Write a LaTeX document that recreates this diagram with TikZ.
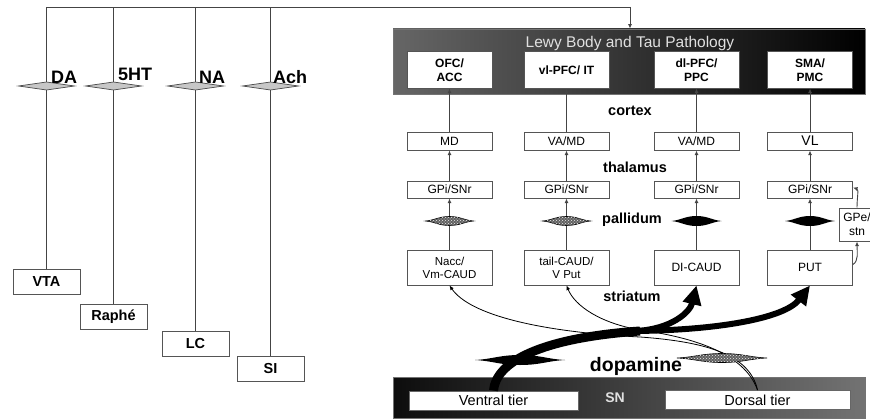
\documentclass[tikz,border=0pt]{standalone}
\usepackage{fontspec}
\setmainfont{Liberation Sans}
\usetikzlibrary{arrows.meta,patterns}
\definecolor{ln}{HTML}{444444}
\definecolor{bd}{HTML}{555555}
\tikzset{
  pics/rhomb/.style={code={\path[pic actions] (-28,0) -- (0,-4) -- (28,0) -- (0,4) -- cycle;}},
  pics/lens/.style 2 args={code={\path[pic actions] (-#1,0) .. controls (-0.6*#1,-0.2*#2) and (-0.45*#1,-#2) .. (0,-#2) .. controls (0.45*#1,-#2) and (0.6*#1,-0.2*#2) .. (#1,0) .. controls (0.6*#1,0.2*#2) and (0.45*#1,#2) .. (0,#2) .. controls (-0.45*#1,#2) and (-0.6*#1,0.2*#2) .. (-#1,0) -- cycle;}},
  pics/hlens/.style 2 args={code={\path[fill=black!62, postaction={pattern=crosshatch dots, pattern color=black!8}, draw=black, line width=0.6pt] (-#1,0) .. controls (-0.6*#1,-0.2*#2) and (-0.45*#1,-#2) .. (0,-#2) .. controls (0.45*#1,-#2) and (0.6*#1,-0.2*#2) .. (#1,0) .. controls (0.6*#1,0.2*#2) and (0.45*#1,#2) .. (0,#2) .. controls (-0.45*#1,#2) and (-0.6*#1,0.2*#2) .. (-#1,0) -- cycle;}},
}
\begin{document}
\begin{tikzpicture}[x=1pt,y=-1pt,
  line/.style={draw=ln, line width=0.9pt},
  arr/.style={line, -{Latex[length=4.5pt,width=4pt]}},
  box/.style={draw=bd, line width=1pt, fill=white, inner sep=1pt, align=center, text=black},
  lbox/.style={box, minimum width=67, minimum height=25, font=\fontsize{14.5}{16}\selectfont\bfseries},
  cbox/.style={box, minimum width=85, minimum height=36, font=\fontsize{12}{14}\selectfont\bfseries},
  tbox/.style={box, minimum width=85, minimum height=18, font=\fontsize{12}{13}\selectfont},
  gbox/.style={box, minimum width=85, minimum height=17, font=\fontsize{12}{13}\selectfont},
  sbox/.style={box, minimum width=85, minimum height=35, font=\fontsize{11.5}{13}\selectfont},
  nt/.style={font=\fontsize{18}{20}\selectfont\bfseries, anchor=west, inner sep=0pt},
  region/.style={font=\fontsize{14.5}{16}\selectfont\bfseries, inner sep=0pt},
  diam/.style={fill=black!22, draw=ln, line width=0.7pt},
  blacklens/.style={fill=black},
  tier/.style={box, draw=black!60, minimum height=19, font=\fontsize{14.5}{16}\selectfont},
  dopa/.style={line width=6pt, draw=black, -{Triangle[length=19pt,width=18pt]}},
  thin/.style={draw=black, line width=0.8pt, -{Latex[length=4.5pt,width=4pt]}},
]
\useasboundingbox (0,0) rectangle (870,420);
\clip (0,0) rectangle (870,420);

% ---------- left: transmitter systems ----------
\node[lbox] (vta) at (46.5,281.5) {VTA};
\node[lbox] (raphe) at (113.5,316.5) {Raphé};
\node[lbox] (lc) at (195.5,344) {LC};
\node[lbox] (si) at (270.5,368.5) {SI};

% ---------- top bar ----------
\node[draw=black!55, line width=0.8pt, left color=black!60, right color=black, minimum width=472, minimum height=65, inner sep=0pt] (topbar) at (629,61.5) {};
\node[font=\fontsize{15.5}{17}\selectfont, text=black!12] (title) at (630,43) {Lewy Body and Tau Pathology};

\coordinate (tc) at (630,7);
\coordinate (dy) at (0,86);
\draw[line] (vta.north) |- (tc);
\draw[line] (raphe.north) -- (raphe.north |- tc);
\draw[line] (lc.north) -- (lc.north |- tc);
\draw[line] (si.north) -- (si.north |- tc);
\draw[arr] (tc) -- (tc |- topbar.north);

\pic[diam] at (vta.north |- dy) {rhomb};
\pic[diam] at (raphe.north |- dy) {rhomb};
\pic[diam] at (lc.north |- dy) {rhomb};
\pic[diam] at (si.north |- dy) {rhomb};

\node[nt] (da) at (51,77) {DA};
\node[nt] (ht) at (118,74) {5HT};
\node[nt] (na) at (199,77) {NA};
\node[nt] (ach) at (273,77) {Ach};

% ---------- columns ----------
\node[cbox] (cx1) at (449.5,70) {OFC/\\ACC};
\node[cbox] (cx2) at (566.5,70) {vl-PFC/ IT};
\node[cbox] (cx3) at (696.5,70) {dl-PFC/\\PPC};
\node[cbox] (cx4) at (810,70) {SMA/\\PMC};

\node[tbox] (th1) at (449.5,141) {MD};
\node[tbox] (th2) at (566.5,141) {VA/MD};
\node[tbox] (th3) at (696.5,141) {VA/MD};
\node[tbox, font=\fontsize{14}{15}\selectfont] (th4) at (810,141) {VL};

\node[gbox] (gp1) at (449.5,189.5) {GPi/SNr};
\node[gbox] (gp2) at (566.5,189.5) {GPi/SNr};
\node[gbox] (gp3) at (696.5,189.5) {GPi/SNr};
\node[gbox] (gp4) at (810,189.5) {GPi/SNr};

\node[sbox] (st1) at (449.5,267.5) {Nacc/\\Vm-CAUD};
\node[sbox] (st2) at (566.5,267.5) {tail-CAUD/\\V Put};
\node[sbox, font=\fontsize{12}{13}\selectfont] (st3) at (696.5,267.5) {DI-CAUD};
\node[sbox, font=\fontsize{12}{13}\selectfont] (st4) at (810,267.5) {PUT};

\node[box, minimum width=36, minimum height=33, font=\fontsize{12}{14}\selectfont] (gpe) at (857,224.5) {GPe/\\stn};

\foreach \i in {1,2,3,4}{
  \draw[arr] (th\i.north) -- (cx\i.south);
  \draw[arr] (gp\i.north) -- (th\i.south);
  \draw[arr] (st\i.north) -- (gp\i.south);
}
\pic at (449.5,221) {hlens={24}{4.5}};
\pic at (566.5,221) {hlens={24}{4.5}};
\pic[blacklens] at (696.5,221) {lens={25}{5}};
\pic[blacklens] at (810,221) {lens={25}{5}};

\draw[arr] ([yshift=3]st4.east) .. controls +(6,-4) and +(0,10) .. (gpe.south);
\draw[arr] (gpe.north) .. controls +(0,-10) and +(6,2) .. ([yshift=2]gp4.east);

\node[region] (lcortex) at (630,111) {cortex};
\node[region] (lthal) at (635,167) {thalamus};
\node[region] (lpall) at (632,220) {pallidum};
\node[region] (lstri) at (632,296) {striatum};

% ---------- bottom bar ----------
\node[draw=black!55, line width=0.8pt, left color=black!95, right color=black!55, minimum width=472, minimum height=41, inner sep=0pt] (botbar) at (629,397.5) {};
\node[tier, minimum width=169] (ventral) at (493.5,400.5) {Ventral tier};
\node[tier, minimum width=185] (dorsal) at (757.5,400) {Dorsal tier};
\node[font=\fontsize{14}{16}\selectfont\bfseries, text=black!12] (sn) at (615,398) {SN};

% thin projections from dorsal tier
\draw[thin] (dorsal.north) .. controls (750,356) and (710,342) .. (640,337) .. controls (540,332) and (470,315) .. (st1.south);
\draw[thin] (dorsal.north) .. controls (744,352) and (690,337) .. (640,330) .. controls (600,323) and (575,306) .. (st2.south);

% thick projections from ventral tier
\coordinate (split) at (640,331);
\draw[line width=9pt, draw=black] (ventral.north) .. controls (496,362) and (540,338) .. (split);
\draw[dopa] ([xshift=-4]split) .. controls (672,329) and (690,312) .. (st3.south);
\draw[dopa] ([xshift=-4]split) .. controls (720,330) and (785,318) .. (st4.south);

\pic[blacklens] at (520,360) {lens={45}{5}};
\pic at (722,358) {hlens={45}{4.5}};

\node[font=\fontsize{19.5}{22}\selectfont\bfseries] (dopamine) at (636,366) {dopamine};
\end{tikzpicture}
\end{document}
